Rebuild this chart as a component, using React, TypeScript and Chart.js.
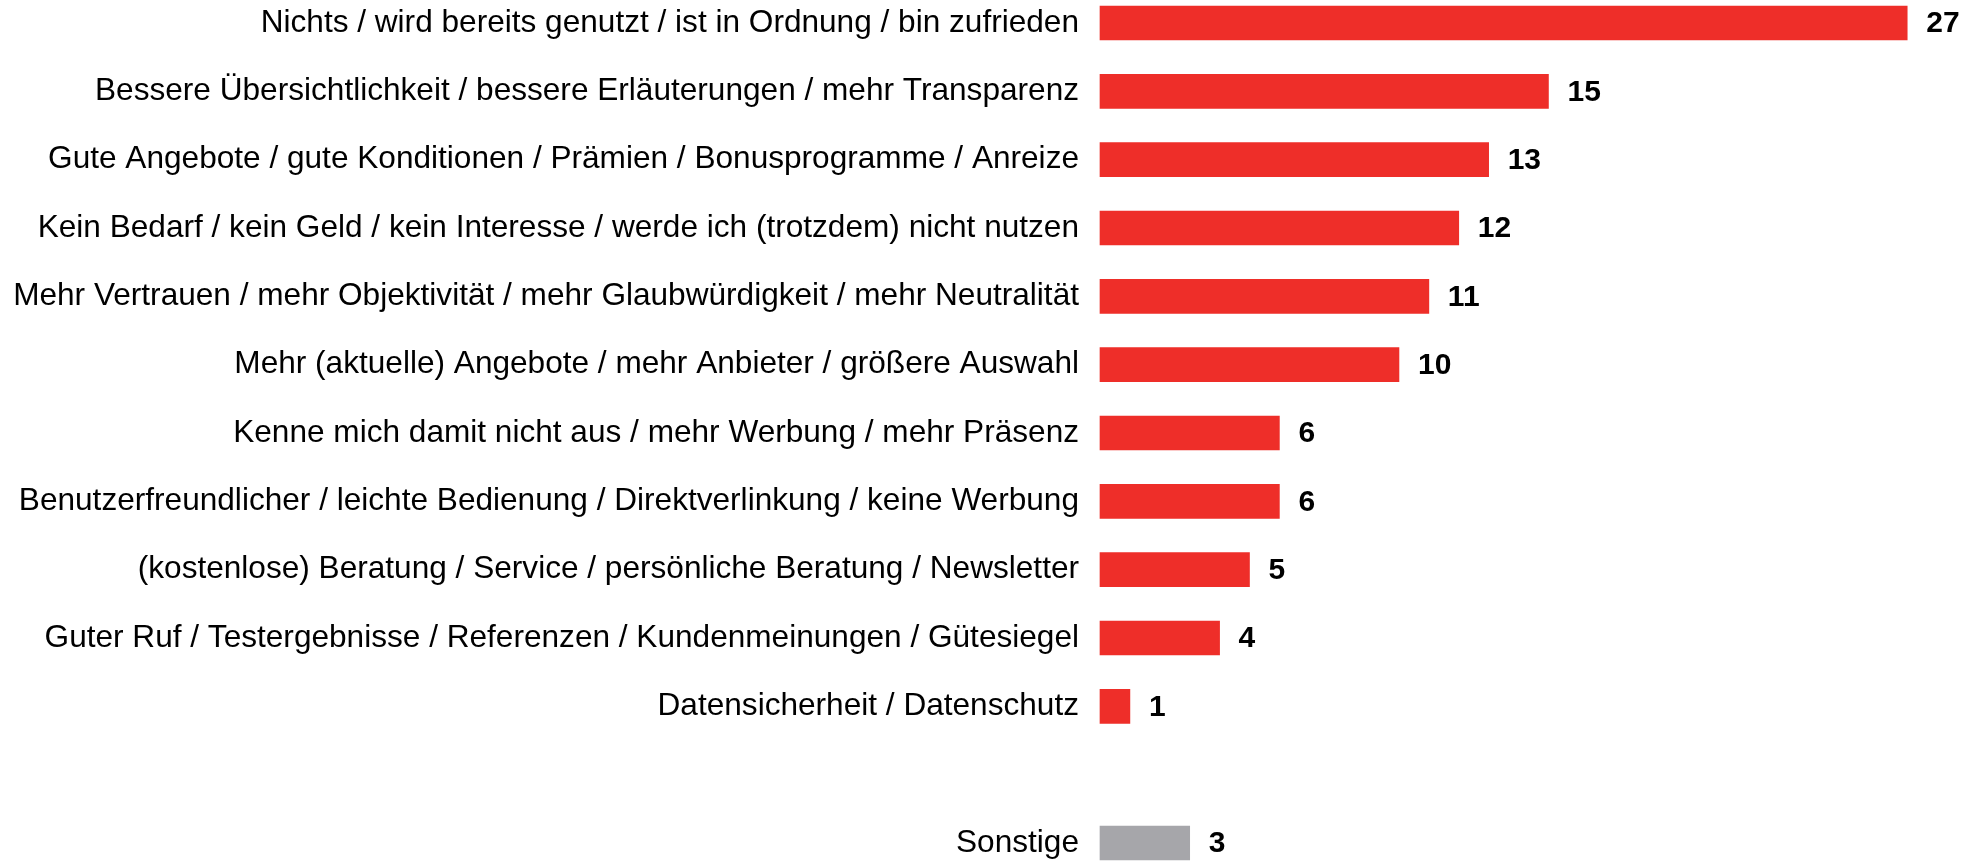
import React, { useEffect, useRef } from "react";
import { Chart, registerables } from "chart.js";

Chart.register(...registerables);

const categories: string[] = [
  "Nichts / wird bereits genutzt / ist in Ordnung / bin zufrieden",
  "Bessere Übersichtlichkeit / bessere Erläuterungen / mehr Transparenz",
  "Gute Angebote / gute Konditionen / Prämien / Bonusprogramme / Anreize",
  "Kein Bedarf / kein Geld / kein Interesse / werde ich (trotzdem) nicht nutzen",
  "Mehr Vertrauen / mehr Objektivität / mehr Glaubwürdigkeit / mehr Neutralität",
  "Mehr (aktuelle) Angebote / mehr Anbieter / größere Auswahl",
  "Kenne mich damit nicht aus / mehr Werbung / mehr Präsenz",
  "Benutzerfreundlicher / leichte Bedienung / Direktverlinkung / keine Werbung",
  "(kostenlose) Beratung / Service / persönliche Beratung / Newsletter",
  "Guter Ruf / Testergebnisse / Referenzen / Kundenmeinungen / Gütesiegel",
  "Datensicherheit / Datenschutz",
  "",
  "Sonstige",
];

const values: (number | null)[] = [27, 15, 13, 12, 11, 10, 6, 6, 5, 4, 1, null, 3];

const RED = "#EE2E29";
const GREY = "#A6A6AA";
const barColors: string[] = [RED, RED, RED, RED, RED, RED, RED, RED, RED, RED, RED, RED, GREY];

const FONT = "'Liberation Sans', Arial, Helvetica, sans-serif";

const valueLabels = {
  id: "valueLabels",
  afterDatasetsDraw(chart: any) {
    const ctx = chart.ctx;
    const meta = chart.getDatasetMeta(0);
    ctx.save();
    ctx.font = `bold 30px ${FONT}`;
    ctx.fillStyle = "#000000";
    ctx.textAlign = "left";
    ctx.textBaseline = "middle";
    meta.data.forEach((bar: any, i: number) => {
      const v = values[i];
      if (v === null || v === undefined) return;
      ctx.fillText(String(v), bar.x + 19, bar.y + 1);
    });
    ctx.restore();
  },
};

export default function App() {
  const ref = useRef<HTMLCanvasElement | null>(null);
  useEffect(() => {
    if (!ref.current) return;
    const chart = new Chart(ref.current, {
      type: "bar",
      data: {
        labels: categories,
        datasets: [
          {
            data: values as any,
            backgroundColor: barColors,
            borderWidth: 0,
            barThickness: 34,
            clip: false as any,
          },
        ],
      },
      options: {
        indexAxis: "y",
        animation: false,
        responsive: false,
        maintainAspectRatio: false,
        layout: { padding: { top: 23, bottom: 19, left: 0, right: 17 } },
        plugins: {
          legend: { display: false },
          tooltip: { enabled: false },
        },
        scales: {
          x: {
            display: false,
            min: 0,
            max: 29,
          },
          y: {
            offset: false,
            grid: { display: false, drawTicks: false },
            border: { display: false },
            ticks: {
              padding: 21,
              color: "#000000",
              font: { family: FONT, size: 31.6 },
              autoSkip: false,
            },
            afterFit: (s: any) => {
              s.width = 1100;
              s.paddingTop = 0;
              s.paddingBottom = 0;
            },
          },
        },
      },
      plugins: [valueLabels],
    });
    return () => chart.destroy();
  }, []);
  return (
    <div style={{ position: "fixed", left: 0, top: 0, width: 1984, height: 862, background: "#fff" }}>
      <canvas ref={ref} width={1984} height={862} style={{ display: "block" }} />
    </div>
  );
}
